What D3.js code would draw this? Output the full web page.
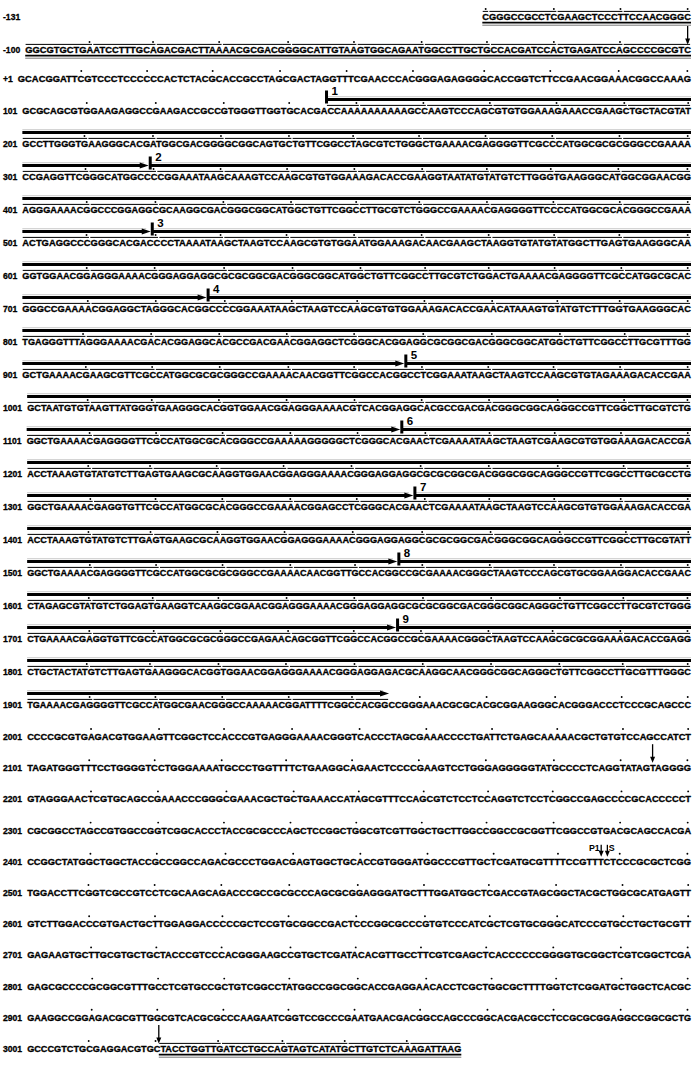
<!DOCTYPE html>
<html lang="en">
<head>
<meta charset="UTF-8" />
<title>Nucleotide sequence with repeats</title>
<script src="https://d3js.org/d3.v7.min.js"></script>
<style>
  body { margin: 0; background: #fff; }
  svg text { font-family: "Liberation Sans", Arial, sans-serif; font-weight: bold; fill: #000; }
  svg text.seq, svg text.lab { stroke: #000; stroke-width: 0.3; }
</style>
</head>
<body>
<svg id="chart" width="694" height="1075"></svg>
<script>
// row labels (numbering of the first base of each line)
const rowLabels = ["-131", "-100", "+1", "101", "201", "301", "401", "501", "601", "701", "801",
  "901", "1001", "1101", "1201", "1301", "1401", "1501", "1601", "1701", "1801", "1901",
  "2001", "2101", "2201", "2301", "2401", "2501", "2601", "2701", "2801", "2901", "3001"];

const sequences = [
  "CGGGCCGCCTCGAAGCTCCCTTCCAACGGGC",
  "GGCGTGCTGAATCCTTTGCAGACGACTTAAAACGCGACGGGGCATTGTAAGTGGCAGAATGGCCTTGCTGCCACGATCCACTGAGATCCAGCCCCGCGTC",
  "GCACGGATTCGTCCCTCCCCCCACTCTACGCACCGCCTAGCGACTAGGTTTCGAACCCACGGGAGAGGGGCACCGGTCTTCCGAACGGAAACGGCCAAAG",
  "GCGCAGCGTGGAAGAGGCCGAAGACCGCCGTGGGTTGGTGCACGACCAAAAAAAAAAGCCAAGTCCCAGCGTGTGGAAAGAAACCGAAGCTGCTACGTAT",
  "GCCTTGGGTGAAGGGCACGATGGCGACGGGGCGGCAGTGCTGTTCGGCCTAGCGTCTGGGCTGAAAACGAGGGGTTCGCCCATGGCGCGCGGGCCGAAAA",
  "CCGAGGTTCGGGCATGGCCCCGGAAATAAGCAAAGTCCAAGCGTGTGGAAAGACACCGAAGGTAATATGTATGTCTTGGGTGAAGGGCATGGCGGAACGG",
  "AGGGAAAACGGCCCGGAGGCGCAAGGCGACGGGCGGCATGGCTGTTCGGCCTTGCGTCTGGGCCGAAAACGAGGGGTTCCCCATGGCGCACGGGCCGAAA",
  "ACTGAGGCCCGGGCACGACCCCTAAAATAAGCTAAGTCCAAGCGTGTGGAATGGAAAGACAACGAAGCTAAGGTGTATGTATGGCTTGAGTGAAGGGCAA",
  "GGTGGAACGGAGGGAAAACGGGAGGAGGCGCGCGGCGACGGGCGGCATGGCTGTTCGGCCTTGCGTCTGGACTGAAAACGAGGGGTTCGCCATGGCGCAC",
  "GGGCCGAAAACGGAGGCTAGGGCACGGCCCCGGAAATAAGCTAAGTCCAAGCGTGTGGAAAGACACCGAACATAAAGTGTATGTCTTTGGTGAAGGGCAC",
  "TGAGGGTTTAGGGAAAACGACACGGAGGCACGCCGACGAACGGAGGCTCGGGCACGGAGGCGCGGCGACGGGCGGCATGGCTGTTCGGCCTTGCGTTTGG",
  "GCTGAAAACGAAGCGTTCGCCATGGCGCGCGGGCCGAAAACAACGGTTCGGCCACGGCCTCGGAAATAAGCTAAGTCCAAGCGTGTAGAAAGACACCGAA",
  "GCTAATGTGTAAGTTATGGGTGAAGGGCACGGTGGAACGGAGGGAAAACGTCACGGAGGCACGCCGACGACGGGCGGCAGGGCCGTTCGGCTTGCGTCTG",
  "GGCTGAAAACGAGGGGTTCGCCATGGCGCACGGGCCGAAAAAGGGGGCTCGGGCACGAACTCGAAAATAAGCTAAGTCGAAGCGTGTGGAAAGACACCGA",
  "ACCTAAAGTGTATGTCTTGAGTGAAGCGCAAGGTGGAACGGAGGGAAAACGGGAGGAGGCGCGCGGCGACGGGCGGCAGGGCCGTTCGGCCTTGCGCCTG",
  "GGCTGAAAACGAGGTGTTCGCCATGGCGCACGGGCCGAAAACGGAGCCTCGGGCACGAACTCGAAAATAAGCTAAGTCCAAGCGTGTGGAAAGACACCGA",
  "ACCTAAAGTGTATGTCTTGAGTGAAGCGCAAGGTGGAACGGAGGGAAAACGGGAGGAGGCGCGCGGCGACGGGCGGCAGGGCCGTTCGGCCTTGCGTATT",
  "GGCTGAAAACGAGGGGTTCGCCATGGCGCGCGGGCCGAAAACAACGGTTGCCACGGCCGCGAAAACGGGCTAAGTCCCAGCGTGCGGAAGGACACCGAAC",
  "CTAGAGCGTATGTCTGGAGTGAAGGTCAAGGCGGAACGGAGGGAAAACGGGAGGAGGCGCGCGGCGACGGGCGGCAGGGCTGTTCGGCCTTGCGTCTGGG",
  "CTGAAAACGAGGTGTTCGCCATGGCGCGCGGGCCGAGAACAGCGGTTCGGCCACGGCCGCGAAAACGGGCTAAGTCCAAGCGCGCGGAAAGACACCGAGG",
  "CTGCTACTATGTCTTGAGTGAAGGGCACGGTGGAACGGAGGGAAAACGGGAGGAGACGCAAGGCAACGGGCGGCAGGGCTGTTCGGCCTTGCGTTTGGGC",
  "TGAAAACGAGGGGTTCGCCATGGCGAACGGGCCAAAAACGGATTTTCGGCCACGGCCGGGAAACGCGCACGCGGAAGGGCACGGGACCCTCCCGCAGCCC",
  "CCCCGCGTGAGACGTGGAAGTTCGGCTCCACCCGTGAGGGAAAACGGGTCACCCTAGCGAAACCCCTGATTCTGAGCAAAAACGCTGTGTCCAGCCATCT",
  "TAGATGGGTTTCCTGGGGTCCTGGGAAAATGCCCTGGTTTTCTGAAGGCAGAACTCCCCGAAGTCCTGGGAGGGGGTATGCCCCTCAGGTATAGTAGGGG",
  "GTAGGGAACTCGTGCAGCCGAAACCCGGGCGAAACGCTGCTGAAACCATAGCGTTTCCAGCGTCTCCTCCAGGTCTCCTCGGCCGAGCCCCGCACCCCCT",
  "CGCGGCCTAGCCGTGGCCGGTCGGCACCCTACCGCGCCCAGCTCCGGCTGGCGTCGTTGGCTGCTTGGCCGGCCGCGGTTCGGCCGTGACGCAGCCACGA",
  "CCGGCTATGGCTGGCTACCGCCGGCCAGACGCCCTGGACGAGTGGCTGCACCGTGGGATGGCCCGTTGCTCGATGCGTTTTCCGTTTCTCCCGCGCTCGG",
  "TGGACCTTCGGTCGCCGTCCTCGCAAGCAGACCCGCCGCGCCCAGCGCGGAGGGATGCTTTGGATGGCTCGACCGTAGCGGCTACGCTGGCGCATGAGTT",
  "GTCTTGGACCCGTGACTGCTTGGAGGACCCCCGCTCCGTGCGGCCGACTCCCGGCGCCCGTGTCCCATCGCTCGTGCGGGCATCCCGTGCCTGCTGCGTT",
  "GAGAAGTGCTTGCGTGCTGCTACCCGTCCCACGGGAAGCCGTGCTCGATACACGTTGCCTTCGTCGAGCTCACCCCCCGGGGTGCGGCTCGTCGGCTCGA",
  "GAGCGCCCCGCGGCGTTTGCCTCGTGCCGCTGTCGGCCTATGGCCGGCGGCACCGAGGAACACCTCGCTGGCGCTTTTGGTCTCGGATGCTGGCTCACGCT".slice(0, 100),
  "GAAGGCCGGAGACGCGTTGGCGTCACGCGCCCAAGAATCGGTCCGCCCGAATGAACGACGGCCAGCCCGGCACGACGCCTCCGCGCGGAGGCCGGCGCTG",
  "GCCCGTCTGCGAGGACGTGCTACCTGGTTGATCCTGCCAGTAGTCATATGCTTGTCTCAAAGATTAAG"
];

// first column occupied by a row (the -131 line is right-justified)
const firstCol = { "-131": 69 };

// tandem repeats: start row / column and number
const repeatRows = ["101", "301", "501", "701", "901", "1101", "1301", "1501", "1701"];
const repeatCols = [45, 19, 19, 27, 57, 56, 58, 56, 56];
const repeatNames = ["1", "2", "3", "4", "5", "6", "7", "8", "9"];
const repeatEnd = ["1901", 55];

// overlined (and double underlined) stretches
const spanFrom = [["-131", 69], ["101", 45], ["3001", 20]];
const spanTo = [["-100", 99], ["1901", 54], ["3001", 67]];
const spanUnder = [true, false, true];

// vertical arrows (processing sites) and transcription starts
const cutSites = [["-100", 99], ["2101", 94], ["3001", 20]];
const startSites = [["2401", 86, "P1"], ["2401", 87, "S"]];

const svg = d3.select("#chart");
const rightX = 691;
const fontSize = 8.8;

const yRow = d3.scaleLinear()
  .domain([0, 1, 2, 3, 21, 22, 32])
  .range([17, 50, 79, 111, 705, 737, 1049]);

// glyph widths
const meas = svg.append("text").attr("font-size", fontSize);
const glyphW = {};
"ACGT".split("").forEach(c => {
  meas.text(c.repeat(20));
  glyphW[c] = meas.node().getComputedTextLength() / 20;
});
meas.remove();

const rows = {};
const labelG = svg.append("g");
rowLabels.forEach((label, i) => {
  const seq = sequences[i];
  const cum = [0];
  for (const c of seq) cum.push(cum[cum.length - 1] + glyphW[c]);
  const b = yRow(i) + 3;
  const t = labelG.append("text").attr("class", "lab").attr("x", 3).attr("y", b)
    .attr("font-size", 8.6).text(label);
  const lw = t.node().getComputedTextLength();
  rows[label] = { label, seq, cum, b, first: firstCol[label] || 0, x0: 3 + lw + 5 };
});

// horizontal scale for each row
rowLabels.forEach(label => {
  const r = rows[label];
  const n = r.seq.length;
  let k;
  if (label === "-131") k = (rightX - rows["-100"].x0) / rows["-100"].cum[100];
  else if (label === "3001") k = (rightX - rows["2901"].x0) / rows["2901"].cum[100];
  else k = (rightX - r.x0) / r.cum[n];
  if (label === "-131") r.x0 = rightX - r.cum[n] * k;
  r.len = r.cum[n] * k;
  r.xs = d3.scaleLinear().domain([0, r.cum[n]]).range([r.x0, r.x0 + r.len]);
  r.xL = col => r.xs(r.cum[col - r.first]);
  r.xR = col => r.xs(r.cum[col - r.first + 1]);
  r.xC = col => (r.xL(col) + r.xR(col)) / 2;
});

// sequence text
svg.append("g").selectAll("text")
  .data(rowLabels.map(l => rows[l]))
  .join("text")
  .attr("class", "seq")
  .attr("x", d => d.x0)
  .attr("y", d => d.b)
  .attr("font-size", fontSize)
  .attr("textLength", d => d.len)
  .attr("lengthAdjust", "spacingAndGlyphs")
  .text(d => d.seq);

// decade dots
const dots = [];
rowLabels.forEach(label => {
  const r = rows[label];
  for (let col = 9; col < 100; col += 10) {
    if (col >= r.first && col - r.first < r.seq.length) dots.push({ x: r.xC(col), y: r.b - 11 });
  }
});
svg.append("g").selectAll("circle").data(dots).join("circle")
  .attr("cx", d => d.x).attr("cy", d => d.y).attr("r", 0.95).attr("fill", "#000");

// overlines and underlines
const idx = label => rowLabels.indexOf(label);
const over = svg.append("g");
spanFrom.forEach((from, s) => {
  const to = spanTo[s];
  for (let i = idx(from[0]); i <= idx(to[0]); i++) {
    const r = rows[rowLabels[i]];
    const c0 = i === idx(from[0]) ? from[1] : r.first;
    const c1 = i === idx(to[0]) ? to[1] : r.first + r.seq.length - 1;
    for (let d = Math.floor(c0 / 10) * 10; d <= c1; d += 10) {
      const a = Math.max(d, c0), z = Math.min(d + 9, c1);
      over.append("line")
        .attr("x1", r.xL(a) + 0.4).attr("x2", r.xR(z) - 0.9)
        .attr("y1", r.b - 8.6).attr("y2", r.b - 8.6)
        .attr("stroke", "#000").attr("stroke-width", 1);
    }
    if (spanUnder[s]) {
      over.append("line")
        .attr("x1", r.xL(c0)).attr("x2", r.xR(c1))
        .attr("y1", r.b + 2.6).attr("y2", r.b + 2.6)
        .attr("stroke", "#000").attr("stroke-width", 1.7);
      over.append("line")
        .attr("x1", r.xL(c0)).attr("x2", r.xR(c1))
        .attr("y1", r.b + 5.2).attr("y2", r.b + 5.2)
        .attr("stroke", "#777").attr("stroke-width", 1);
    }
  }
});

// repeat arrows
const arrows = svg.append("g");
function headRight(x, y) {
  arrows.append("path")
    .attr("d", `M${x},${y} L${x - 9},${y - 3} L${x - 9},${y + 3} Z`)
    .attr("fill", "#000");
}
function bar(x1, x2, y) {
  arrows.append("line").attr("x1", x1).attr("x2", x2).attr("y1", y - 2.8).attr("y2", y - 2.8)
    .attr("stroke", "#bbb").attr("stroke-width", 0.8);
  arrows.append("line").attr("x1", x1).attr("x2", x2).attr("y1", y).attr("y2", y)
    .attr("stroke", "#000").attr("stroke-width", 2.8);
}
let active = false;
for (let i = idx("101"); i <= idx(repeatEnd[0]); i++) {
  const label = rowLabels[i];
  const r = rows[label];
  const ly = r.b - 14.5;
  const rep = repeatRows.indexOf(label);
  if (rep >= 0) {
    const tx = r.xL(repeatCols[rep]);
    if (active) {
      bar(r.x0, tx - 6, ly);
      headRight(tx - 1.5, ly);
    }
    bar(tx, rightX, ly);
    arrows.append("rect").attr("x", tx - 1.5).attr("y", ly - 9).attr("width", 3).attr("height", 13)
      .attr("fill", "#000");
    arrows.append("text").attr("x", tx + 5).attr("y", ly - 4.5).attr("font-size", 11.5)
      .text(repeatNames[rep]);
    active = true;
  } else if (label === repeatEnd[0]) {
    const ex = r.xL(repeatEnd[1]);
    bar(r.x0, ex - 6, ly);
    headRight(ex, ly);
  } else {
    bar(r.x0, rightX, ly);
  }
}

// vertical down arrows
function downArrow(x, yTop, yTip) {
  arrows.append("line").attr("x1", x).attr("x2", x).attr("y1", yTop).attr("y2", yTip - 5)
    .attr("stroke", "#000").attr("stroke-width", 1.3);
  arrows.append("path")
    .attr("d", `M${x},${yTip} L${x - 2.5},${yTip - 6} L${x + 2.5},${yTip - 6} Z`)
    .attr("fill", "#000");
}
cutSites.forEach(([label, col]) => {
  const r = rows[label];
  const x = label === "3001" ? r.xL(col) : r.xC(col);
  downArrow(x, r.b - 27, r.b - 8.5);
});
startSites.forEach(([label, col, name], j) => {
  const r = rows[label];
  const x = r.xC(col);
  downArrow(x, r.b - 20, r.b - 8);
  arrows.append("text")
    .attr("x", j === 0 ? x - 1.5 : x + 1.5)
    .attr("y", r.b - 14)
    .attr("font-size", 8.8)
    .attr("text-anchor", j === 0 ? "end" : "start")
    .text(name);
});
</script>
</body>
</html>
